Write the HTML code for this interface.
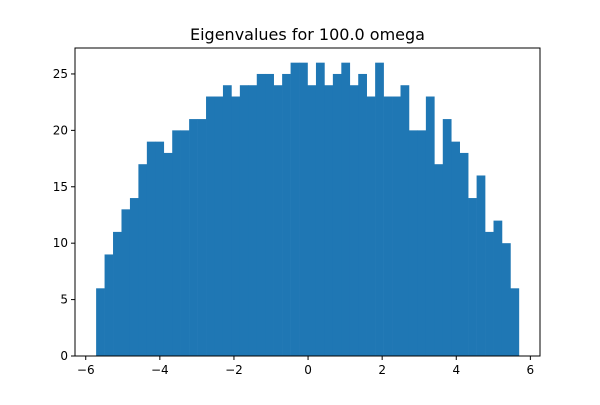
<!DOCTYPE html>
<html><head><meta charset="utf-8"><style>
body{margin:0;background:#fff;}
svg text{font-family:"DejaVu Sans","Liberation Sans",sans-serif;}
</style></head><body>
<svg id="chart" width="600" height="400" viewBox="0 0 600 400" xmlns="http://www.w3.org/2000/svg">
<rect width="600" height="400" fill="#fff"/>
<text x="307.5" y="40" text-anchor="middle" font-size="16">Eigenvalues for 100.0 omega</text>
<g id="bars"></g>
<g id="xticks"></g>
<g id="yticks"></g>
<rect x="75" y="48" width="465" height="308" fill="none" stroke="#000" stroke-width="1"/>
</svg>
<script>
const counts = [6,9,11,13,14,17,19,19,18,20,20,21,21,23,23,24,23,24,24,25,25,24,25,26,26,24,26,24,25,26,24,25,23,26,23,23,24,20,20,23,17,21,19,18,14,16,11,12,10,6];
const binRange = [-5.72, 5.69];
const xTicks = [-6,-4,-2,0,2,4,6];
const yTicks = [0,5,10,15,20,25];

const L=75,R=540,T=48,B=356;
const xMin=-6.29,xMax=6.26,yMax=27.3;
const sx=v=>L+(v-xMin)/(xMax-xMin)*(R-L);
const sy=v=>B-v/yMax*(B-T);
const NS="http://www.w3.org/2000/svg";
const bars=document.getElementById('bars');
const w=(binRange[1]-binRange[0])/counts.length;
counts.forEach((c,i)=>{
  const r=document.createElementNS(NS,'rect');
  const x0=sx(binRange[0]+i*w), x1=sx(binRange[0]+(i+1)*w);
  r.setAttribute('x',x0);r.setAttribute('width',x1-x0+0.3);
  r.setAttribute('y',sy(c));r.setAttribute('height',B-sy(c));
  r.setAttribute('fill','#1f77b4');
  
  
  bars.appendChild(r);
});
const xg=document.getElementById('xticks');
xTicks.forEach(t=>{
  const x=sx(t);
  const l=document.createElementNS(NS,'line');
  l.setAttribute('x1',x);l.setAttribute('x2',x);l.setAttribute('y1',B);l.setAttribute('y2',B+4);l.setAttribute('stroke','#000');
  
  
  xg.appendChild(l);
  const tx=document.createElementNS(NS,'text');
  tx.setAttribute('x',x);tx.setAttribute('y',B+18);tx.setAttribute('text-anchor','middle');tx.setAttribute('font-size','12');
  tx.textContent=(t<0?'\u2212'+(-t):t);
  
  
  xg.appendChild(tx);
});
const yg=document.getElementById('yticks');
yTicks.forEach(t=>{
  const y=sy(t);
  const l=document.createElementNS(NS,'line');
  l.setAttribute('x1',L-4);l.setAttribute('x2',L);l.setAttribute('y1',y);l.setAttribute('y2',y);l.setAttribute('stroke','#000');
  
  
  yg.appendChild(l);
  const tx=document.createElementNS(NS,'text');
  tx.setAttribute('x',L-7);tx.setAttribute('y',y+4);tx.setAttribute('text-anchor','end');tx.setAttribute('font-size','12');
  tx.textContent=t;
  
  
  yg.appendChild(tx);
});
</script>
</body></html>
